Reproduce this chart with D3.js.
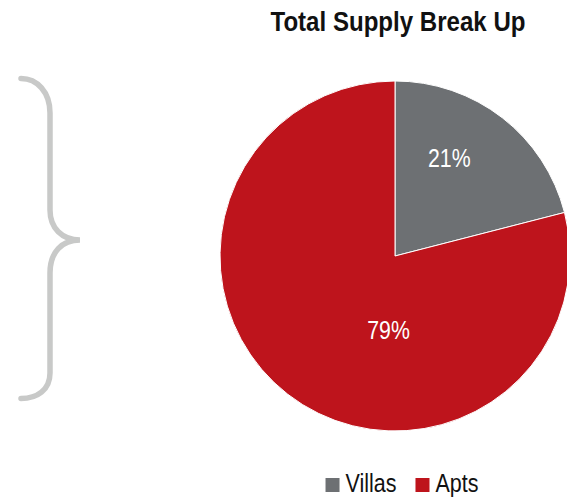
<!DOCTYPE html>
<html><head><meta charset="utf-8">
<script src="https://cdn.jsdelivr.net/npm/d3@7/dist/d3.min.js"></script>
<style>body{margin:0;background:#fff}svg{display:block}</style>
</head><body>
<svg id="c" width="567" height="499"></svg>
<script>
const categories = ["Villas", "Apts"];
const values = [21, 79];
const labels = ["21%", "79%"];
const colors = ["#6d7073", "#be141c"];
const title = "Total Supply Break Up";
// label placement (fraction of radius, angle in degrees clockwise from top)
const labelRadiusFrac = [0.64, 0.42];
const labelAngleDeg = [29, 185];

const FONT = "'Liberation Sans',Arial,sans-serif";
const svg = d3.select("#c");
const cx = 395, cy = 256, R = 175;

// helper: condensed text via horizontal scaling
function ctext(parent, x, y, sx, anchor) {
  return parent.append("g").attr("transform", `translate(${x},${y}) scale(${sx},1)`)
    .append("text").attr("text-anchor", anchor || "start").attr("font-family", FONT);
}

ctext(svg, 398, 31, 0.86, "middle").attr("font-weight", "bold").attr("font-size", 28)
  .attr("fill", "#111").text(title);

const pie = d3.pie().sort(null).value(d => d)(values);
const arc = d3.arc().innerRadius(0).outerRadius(R);
const g = svg.append("g").attr("transform", `translate(${cx},${cy})`);
g.selectAll("path").data(pie).join("path")
  .attr("d", arc).attr("fill", (d, i) => colors[i])
  .attr("stroke", "#fff").attr("stroke-width", 1);

pie.forEach((d, i) => {
  const a = labelAngleDeg[i] * Math.PI / 180;
  const r = R * labelRadiusFrac[i];
  ctext(g, r * Math.sin(a), -r * Math.cos(a), 0.82, "middle")
    .attr("dy", "0.36em").attr("font-size", 26).attr("fill", "#fff").text(labels[i]);
});

// brace
svg.append("path")
  .attr("d", "M21,78.5 C37,78.5 50,92 50,113 L50,210 C50,228 62,240 80,240 C62,240 50,252 50,273 L50,373 C50,390 37,398.5 21,398.5")
  .attr("fill", "none").attr("stroke", "#c8c9c8").attr("stroke-width", 5.5).attr("stroke-linecap", "round");

// legend
const leg = svg.append("g");
const items = leg.selectAll("g.item").data(categories).join("g").attr("class", "item");
items.append("rect").attr("width", 14).attr("height", 14).attr("y", -14).attr("fill", (d, i) => colors[i]);
items.each(function (d) {
  ctext(d3.select(this), 20, 0, 0.86).attr("font-size", 25).attr("fill", "#111").text(d);
});
let x = 0;
items.each(function () {
  d3.select(this).attr("transform", `translate(${x},0)`);
  x += this.getBBox().width + 19;
});
const totalW = x - 19;
leg.attr("transform", `translate(${402 - totalW / 2},492)`);
</script>
</body></html>
